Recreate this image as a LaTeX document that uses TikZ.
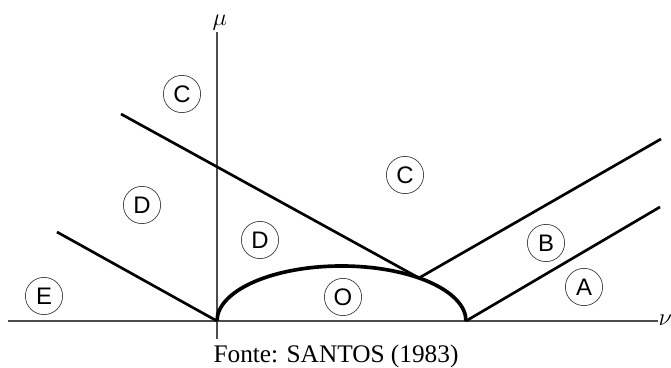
\documentclass[tikz,border=0pt]{standalone}
\usepackage{fontspec}
\setmainfont{Liberation Serif}
\setsansfont{Liberation Sans}

\tikzset{
    region/.style={circle, draw=black!75, line width=0.5pt, minimum size=26.5pt, inner sep=0pt,
        font=\sffamily\fontsize{17}{17}\selectfont},
    axis/.style={draw=black!70, line width=0.8pt},
    border/.style={line width=1.9pt}
}

\begin{document}
\begin{tikzpicture}[x=0.025cm,y=0.025cm]

    % 表示範囲
    \useasboundingbox (-217,-47) rectangle (454,321);

    % パラメータの定義
    \pgfmathsetmacro{\a}{124.5}
    \pgfmathsetmacro{\b}{55}
    \pgfmathsetmacro{\t}{51.5}

    % 点の定義
    \coordinate (O) at (0,0);
    \coordinate (Q) at (2*\a,0);
    \coordinate (J) at ({\a+\a*cos(\t)},{\b*sin(\t)});
    \coordinate (L) at (-160,89);
    \coordinate (U) at (-96,207);
    \coordinate (R1) at (444,182);
    \coordinate (R2) at (443,114);
    \coordinate (Xl) at (-209,0);
    \coordinate (Xr) at (441,0);
    \coordinate (Yb) at (0,-18);
    \coordinate (Yt) at (0,289);

    % 軸の描画
    \draw [axis] (Xl) -- (Xr);
    \draw [axis] (Yb) -- (Yt);
    \node (nu) at (Xr) [anchor=base west, yshift=-3pt, inner sep=0.3pt, font=\fontsize{17}{17}\selectfont] {$\nu$};
    \node (mu) at (Yt) [above, xshift=2pt, inner sep=1pt, font=\fontsize{17}{17}\selectfont] {$\mu$};

    % 線分の描画
    \draw [line width=2.6pt] (O) arc [start angle=180, end angle=0, x radius=\a, y radius=\b];
    \draw [border] (U) -- (J);
    \draw [border] (J) -- (R1);
    \draw [border] (L) -- (O);
    \draw [border] (Q) -- (R2);

    % 領域の記号
    \node [region] (c1) at (-35,227) {C};
    \node [region] (d1) at (-75,116) {D};
    \node [region] (c2) at (188,146) {C};
    \node [region] (d2) at (43,81) {D};
    \node [region] (b) at (329,78) {B};
    \node [region] (o) at (126,24) {O};
    \node [region] (e) at (-173,25) {E};
    \node [region] (a) at (367,34) {A};

    % 出典
    \node (src) at (119,-35) [font=\fontsize{18}{18}\selectfont] {Fonte: SANTOS (1983)};

\end{tikzpicture}
\end{document}
